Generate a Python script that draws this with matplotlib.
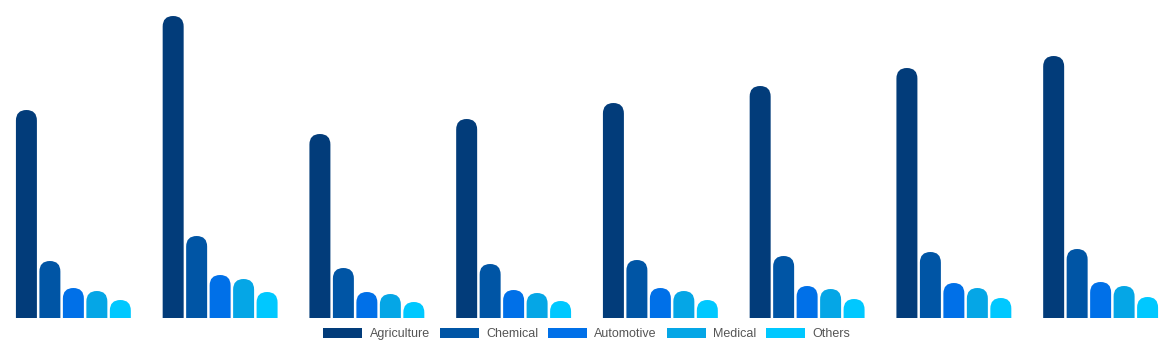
import numpy as np
import matplotlib
matplotlib.use("Agg")
import matplotlib.pyplot as plt
from matplotlib.patches import FancyBboxPatch, Patch

# values (arbitrary units, no axis shown)
groups = ["G1", "G2", "G3", "G4", "G5", "G6", "G7", "G8"]
series = ["Agriculture", "Chemical", "Automotive", "Medical", "Others"]
agriculture = [208, 302, 184, 199, 215, 232, 250, 262]
chemical = [57, 82, 50, 54, 58, 62, 66, 69]
automotive = [30, 43, 26, 28, 30, 32, 35, 36]
medical = [27, 39, 24, 25, 27, 29, 30, 32]
others = [18, 26, 16, 17, 18, 19, 20, 21]
colors = ["#023c7a", "#0055a5", "#0070e8", "#05a6e6", "#00c8ff"]

values = [agriculture, chemical, automotive, medical, others]

plt.rcParams["font.family"] = ["Liberation Sans", "DejaVu Sans"]

W, H = 1174, 350
fig = plt.figure(figsize=(W / 100, H / 100), dpi=100)
ax = fig.add_axes([0, 32 / H, 1, 318 / H])
ax.set_xlim(-0.5, len(groups) - 0.5)
ax.set_ylim(0, 318)
ax.axis("off")

step = 0.160
width = 0.143
radius = width / 2

# pixels per data unit on each axis, for round tops
px_x = ax.transData.transform((1, 0))[0] - ax.transData.transform((0, 0))[0]
px_y = ax.transData.transform((0, 1))[1] - ax.transData.transform((0, 0))[1]
aspect = px_x / px_y

x = np.arange(len(groups))
for i, (vals, c) in enumerate(zip(values, colors)):
    for xi, v in zip(x, vals):
        left = xi + (i - 2) * step - width / 2
        bottom = -radius * aspect
        box = FancyBboxPatch((left, bottom), width, v - bottom,
                             boxstyle=f"round,pad=0,rounding_size={radius}",
                             mutation_aspect=aspect, facecolor=c,
                             edgecolor="none")
        ax.add_patch(box)

handles = [Patch(facecolor=c, edgecolor="none", label=s) for s, c in zip(series, colors)]
fig.legend(handles=handles, loc="center", bbox_to_anchor=(0.5, 1 - 334 / H),
           ncol=5, frameon=False, fontsize=9, handlelength=3.1,
           handleheight=0.85, handletextpad=0.6, columnspacing=0.8,
           labelcolor="#555555")

fig.savefig("out.png", dpi=100)
